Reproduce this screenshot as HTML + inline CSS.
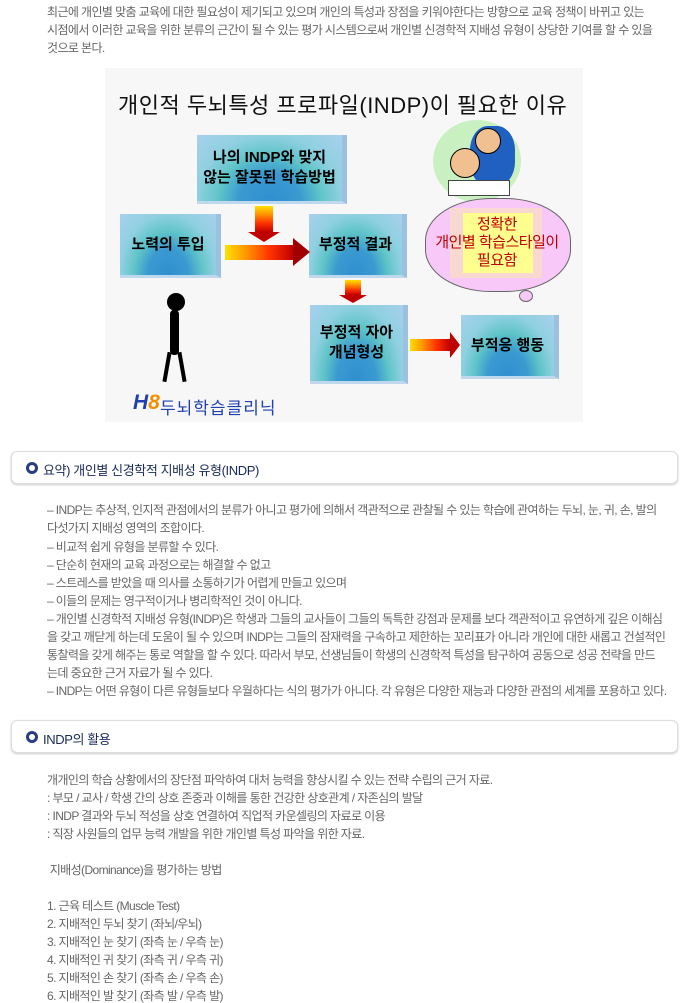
<!DOCTYPE html>
<html><head><meta charset="utf-8"><style>
body{margin:0;width:690px;height:999px;background:#fff;position:relative;overflow:hidden;font-family:"Liberation Sans","Noto Sans CJK KR",sans-serif}
.t{position:absolute;left:47px;font-size:12px;color:#666;white-space:nowrap;letter-spacing:-0.6px;line-height:14px}
.h{position:absolute;left:11px;width:665px;height:31px;border:1px solid #ddd;border-radius:6px;box-shadow:0 1px 2px #ccc;background:#fff}
.h span{position:absolute;left:31px;top:8px;font-size:13px;color:#1a2a5a;letter-spacing:-0.4px}
.h i{position:absolute;left:14px;top:10px;width:6px;height:6px;border:3px solid #2a3f80;border-radius:50%}
.img{position:absolute;left:105px;top:68px;width:478px;height:354px;background:#f7f7f7}
.b{position:absolute;background:radial-gradient(ellipse at 50% 100%,#2f8fd0 0,#3a9ad0 30%,#5fc4c8 50%,#8fd0e0 70%,#a8d0ee 100%);border-right:5px solid #9cc0e0;border-bottom:3px solid #c0d8ee;font-weight:bold;font-size:15px;color:#000;text-align:center;display:flex;align-items:center;justify-content:center;line-height:20px}
.ah{position:absolute;background:linear-gradient(90deg,#ffe000,#ff9000,#ff3000,#c00000)}
.av{position:absolute;background:linear-gradient(180deg,#ffe000,#ff9000,#ff3000,#c00000)}
</style></head><body>
<div class="t" style="top:5px">최근에 개인별 맞춤 교육에 대한 필요성이 제기되고 있으며 개인의 특성과 장점을 키워야한다는 방향으로 교육 정책이 바뀌고 있는</div>
<div class="t" style="top:23px">시점에서 이러한 교육을 위한 분류의 근간이 될 수 있는 평가 시스템으로써 개인별 신경학적 지배성 유형이 상당한 기여를 할 수 있을</div>
<div class="t" style="top:41px">것으로 본다.</div>

<div class="img">
<div style="position:absolute;left:13px;top:20px;font-size:22px;color:#111;white-space:nowrap;letter-spacing:0.5px">개인적 두뇌특성 프로파일(INDP)이 필요한 이유</div>
<div class="b" style="left:92px;top:67px;width:145px;height:66px">나의 INDP와 맞지<br>않는 잘못된 학습방법</div>
<div class="b" style="left:15px;top:146px;width:96px;height:61px">노력의 투입</div>
<div class="b" style="left:204px;top:146px;width:93px;height:61px">부정적 결과</div>
<div class="b" style="left:205px;top:237px;width:93px;height:76px">부정적 자아<br>개념형성</div>
<div class="b" style="left:356px;top:247px;width:93px;height:61px">부적응 행동</div>
<div class="av" style="left:150px;top:138px;width:18px;height:26px"></div>
<div style="position:absolute;left:143px;top:164px;border-left:16px solid transparent;border-right:16px solid transparent;border-top:10px solid #c00000"></div>
<div class="ah" style="left:120px;top:177px;width:68px;height:15px"></div>
<div style="position:absolute;left:188px;top:170px;border-top:14px solid transparent;border-bottom:14px solid transparent;border-left:17px solid #a00000"></div>
<div class="av" style="left:240px;top:212px;width:16px;height:15px"></div>
<div style="position:absolute;left:234px;top:227px;border-left:14px solid transparent;border-right:14px solid transparent;border-top:8px solid #c00000"></div>
<div class="ah" style="left:305px;top:271px;width:40px;height:12px"></div>
<div style="position:absolute;left:345px;top:264px;border-top:13px solid transparent;border-bottom:13px solid transparent;border-left:10px solid #c00000"></div>
<div style="position:absolute;left:328px;top:52px;width:88px;height:82px;border-radius:50%;background:#c8f0c0"></div>
<div style="position:absolute;left:365px;top:58px;width:45px;height:60px;border-radius:40%;background:#2060c0"></div>
<div style="position:absolute;left:345px;top:80px;width:28px;height:28px;border-radius:50%;background:#f0c090;border:1px solid #000"></div>
<div style="position:absolute;left:370px;top:60px;width:24px;height:24px;border-radius:50%;background:#f0c090;border:1px solid #000"></div>
<div style="position:absolute;left:343px;top:112px;width:60px;height:14px;background:#fff;border:1px solid #444"></div>
<div style="position:absolute;left:320px;top:130px;width:144px;height:92px;border-radius:45%;background:#f8c8f8;border:1px solid #666"></div>
<div style="position:absolute;left:345px;top:140px;width:92px;height:70px;background:#f8d8d0"></div>
<div style="position:absolute;left:358px;top:145px;width:70px;height:60px;background:#ffff90"></div>
<div style="position:absolute;left:312px;top:148px;width:160px;text-align:center;color:#c00000;font-size:15px;line-height:18px;white-space:nowrap;letter-spacing:-0.5px">정확한<br>개인별 학습스타일이<br>필요함</div>
<div style="position:absolute;left:414px;top:222px;width:12px;height:10px;border-radius:50%;background:#f8c8f8;border:1px solid #666"></div>
<div style="position:absolute;left:62px;top:225px;width:18px;height:18px;border-radius:50%;background:#000"></div>
<div style="position:absolute;left:65px;top:242px;width:9px;height:45px;background:#000;border-radius:4px"></div>
<div style="position:absolute;left:60px;top:284px;width:4px;height:30px;background:#000;transform:rotate(10deg)"></div>
<div style="position:absolute;left:75px;top:284px;width:4px;height:30px;background:#000;transform:rotate(-10deg)"></div>
<div style="position:absolute;left:28px;top:323px;font-size:21px;font-weight:bold;color:#2040b0;font-style:italic">H<span style="color:#f09000">8</span></div>
<div style="position:absolute;left:55px;top:326px;font-size:17px;color:#2040b0;letter-spacing:1px;white-space:nowrap">두뇌학습클리닉</div>
</div>

<div class="h" style="top:451px"><i></i><span>요약) 개인별 신경학적 지배성 유형(INDP)</span></div>
<div class="t" style="top:503px">– INDP는 추상적, 인지적 관점에서의 분류가 아니고 평가에 의해서 객관적으로 관찰될 수 있는 학습에 관여하는 두뇌, 눈, 귀, 손, 발의</div>
<div class="t" style="top:521px">다섯가지 지배성 영역의 조합이다.</div>
<div class="t" style="top:540px">– 비교적 쉽게 유형을 분류할 수 있다.</div>
<div class="t" style="top:558px">– 단순히 현재의 교육 과정으로는 해결할 수 없고</div>
<div class="t" style="top:576px">– 스트레스를 받았을 때 의사를 소통하기가 어렵게 만들고 있으며</div>
<div class="t" style="top:594px">– 이들의 문제는 영구적이거나 병리학적인 것이 아니다.</div>
<div class="t" style="top:612px">– 개인별 신경학적 지배성 유형(INDP)은 학생과 그들의 교사들이 그들의 독특한 강점과 문제를 보다 객관적이고 유연하게 깊은 이해심</div>
<div class="t" style="top:630px">을 갖고 깨닫게 하는데 도움이 될 수 있으며 INDP는 그들의 잠재력을 구속하고 제한하는 꼬리표가 아니라 개인에 대한 새롭고 건설적인</div>
<div class="t" style="top:648px">통찰력을 갖게 해주는 통로 역할을 할 수 있다. 따라서 부모, 선생님들이 학생의 신경학적 특성을 탐구하여 공동으로 성공 전략을 만드</div>
<div class="t" style="top:666px">는데 중요한 근거 자료가 될 수 있다.</div>
<div class="t" style="top:684px">– INDP는 어떤 유형이 다른 유형들보다 우월하다는 식의 평가가 아니다. 각 유형은 다양한 재능과 다양한 관점의 세계를 포용하고 있다.</div>

<div class="h" style="top:720px"><i></i><span>INDP의 활용</span></div>
<div class="t" style="top:773px">개개인의 학습 상황에서의 장단점 파악하여 대처 능력을 향상시킬 수 있는 전략 수립의 근거 자료.</div>
<div class="t" style="top:791px">: 부모 / 교사 / 학생 간의 상호 존중과 이해를 통한 건강한 상호관계 / 자존심의 발달</div>
<div class="t" style="top:809px">: INDP 결과와 두뇌 적성을 상호 연결하여 직업적 카운셀링의 자료로 이용</div>
<div class="t" style="top:827px">: 직장 사원들의 업무 능력 개발을 위한 개인별 특성 파악을 위한 자료.</div>
<div class="t" style="top:863px">&nbsp;지배성(Dominance)을 평가하는 방법</div>
<div class="t" style="top:899px">1. 근육 테스트 (Muscle Test)</div>
<div class="t" style="top:917px">2. 지배적인 두뇌 찾기 (좌뇌/우뇌)</div>
<div class="t" style="top:935px">3. 지배적인 눈 찾기 (좌측 눈 / 우측 눈)</div>
<div class="t" style="top:953px">4. 지배적인 귀 찾기 (좌측 귀 / 우측 귀)</div>
<div class="t" style="top:971px">5. 지배적인 손 찾기 (좌측 손 / 우측 손)</div>
<div class="t" style="top:989px">6. 지배적인 발 찾기 (좌측 발 / 우측 발)</div>
</body></html>
